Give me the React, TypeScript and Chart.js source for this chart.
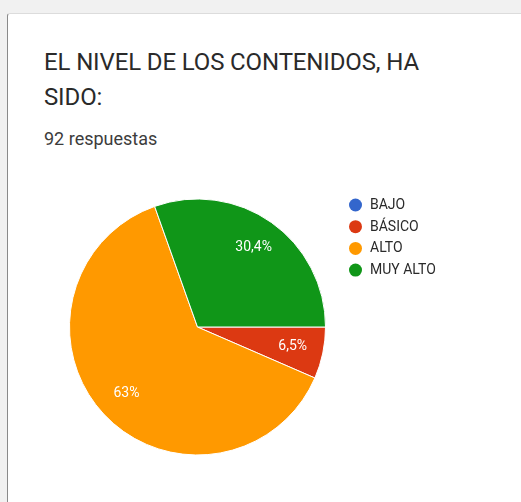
import React, { useEffect, useRef } from "react";
import { Chart, registerables } from "chart.js";

Chart.register(...registerables);

const categories = ["BAJO", "BÁSICO", "ALTO", "MUY ALTO"];
const counts = [0, 6, 58, 28];
const colors = ["#3366cc", "#dc3912", "#ff9900", "#109618"];
const title = "EL NIVEL DE LOS CONTENIDOS, HA SIDO:";
const subtitle = "92 respuestas";

const fmtPct = (v: number, total: number) => {
  const p = ((v / total) * 100).toFixed(1).replace(/\.0$/, "");
  return p.replace(".", ",") + "%";
};

const sliceLabels = {
  id: "sliceLabels",
  afterDatasetsDraw(chart: any) {
    const ctx = chart.ctx;
    const meta = chart.getDatasetMeta(0);
    const data = chart.data.datasets[0].data as number[];
    const total = data.reduce((a, b) => a + b, 0);
    ctx.save();
    ctx.font = "14px Roboto";
    ctx.fillStyle = "#ffffff";
    ctx.textAlign = "center";
    ctx.textBaseline = "middle";
    meta.data.forEach((arc: any, i: number) => {
      if (!data[i]) return;
      const { x, y, startAngle, endAngle, outerRadius } = arc.getProps(
        ["x", "y", "startAngle", "endAngle", "outerRadius"],
        true
      );
      const mid = (startAngle + endAngle) / 2;
      const r = outerRadius * 0.76;
      ctx.fillText(fmtPct(data[i], total), x + Math.cos(mid) * r, y + Math.sin(mid) * r);
    });
    ctx.restore();
  },
};

const customLegend = {
  id: "customLegend",
  afterDraw(chart: any) {
    const ctx = chart.ctx;
    const labels = chart.data.labels as string[];
    const bg = chart.data.datasets[0].backgroundColor as string[];
    ctx.save();
    ctx.font = "14px Roboto";
    ctx.textBaseline = "middle";
    ctx.textAlign = "left";
    labels.forEach((lab, i) => {
      const y = 205 + i * 21.7;
      ctx.beginPath();
      ctx.arc(355.5, y, 6.5, 0, Math.PI * 2);
      ctx.fillStyle = bg[i];
      ctx.fill();
      ctx.fillStyle = "#2a2a2a";
      ctx.fillText(lab, 370, y + 0.5);
    });
    ctx.restore();
  },
};

function PieChart() {
  const ref = useRef<HTMLCanvasElement>(null);
  useEffect(() => {
    if (!ref.current) return;
    const chart = new Chart(ref.current, {
      type: "pie",
      data: {
        labels: categories,
        datasets: [
          {
            data: counts,
            backgroundColor: colors,
            borderColor: "#ffffff",
            borderWidth: 1,
          },
        ],
      },
      options: {
        animation: false,
        responsive: false,
        rotation: 90,
        layout: { padding: { left: 69, right: 195, top: 198, bottom: 46 } },
        plugins: { legend: { display: false }, tooltip: { enabled: false } },
      },
      plugins: [sliceLabels, customLegend],
    });
    return () => chart.destroy();
  }, []);
  return (
    <canvas
      ref={ref}
      width={521}
      height={502}
      style={{ position: "absolute", left: 0, top: 0, width: 521, height: 502 }}
    />
  );
}

export default function App() {
  return (
    <div
      style={{
        position: "fixed",
        left: 0,
        top: 0,
        width: 521,
        height: 502,
        background: "#f1f1f1",
        overflow: "hidden",
        fontFamily: "Roboto, sans-serif",
      }}
    >
      <div
        style={{
          position: "absolute",
          left: 7,
          top: 13,
          width: 530,
          height: 500,
          background: "#ffffff",
          borderLeft: "1px solid #8a8a8a",
          borderTop: "1px solid #dcdcdc",
          borderTopLeftRadius: 3,
        }}
      />
      <div
        style={{
          position: "absolute",
          left: 44,
          top: 45,
          width: 400,
          fontSize: 24,
          letterSpacing: "-0.13px",
          lineHeight: "35px",
          color: "#2a2a2a",
        }}
      >
        {title}
      </div>
      <div
        style={{
          position: "absolute",
          left: 44,
          top: 128,
          fontSize: 18,
          color: "#3c3c3c",
        }}
      >
        {subtitle}
      </div>
      <PieChart />
    </div>
  );
}
